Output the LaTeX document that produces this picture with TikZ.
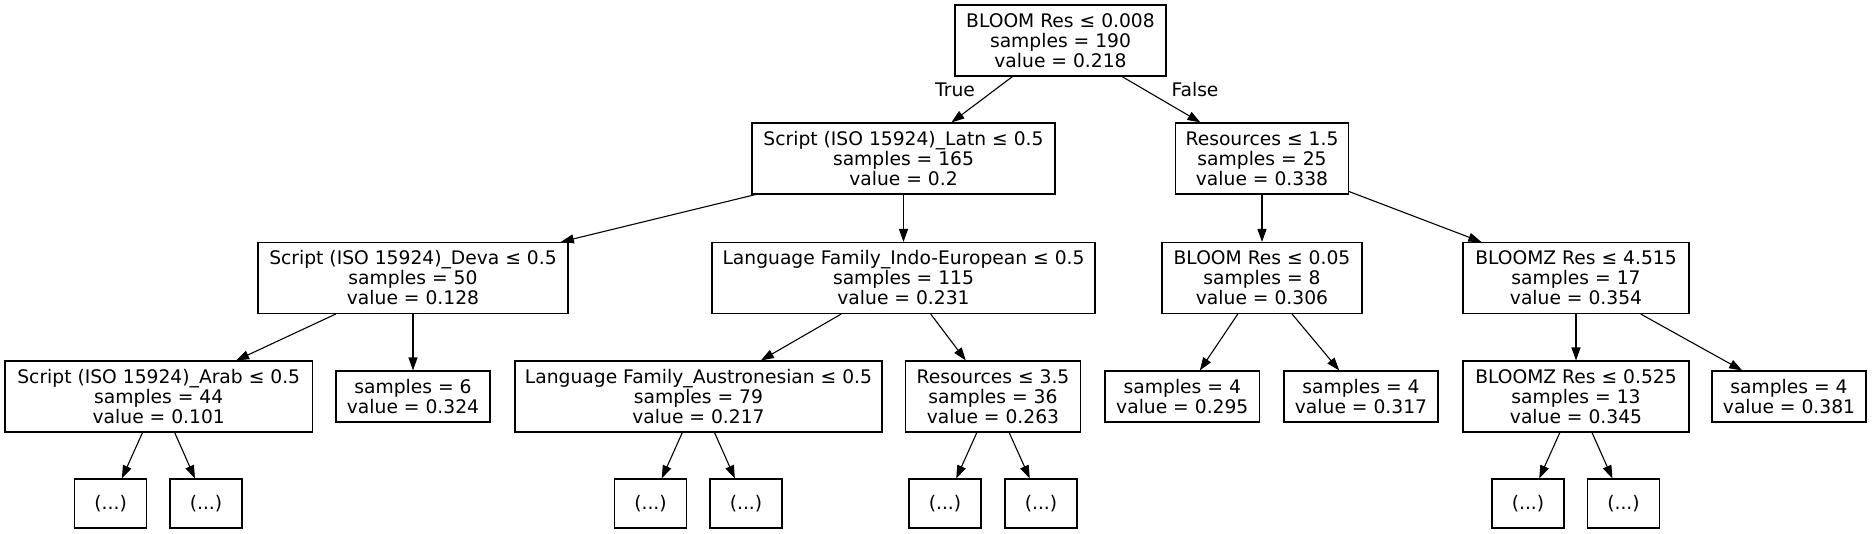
\documentclass[tikz,border=0pt]{standalone}
\usepackage{fontspec}
\setmainfont{DejaVu Sans}
\usetikzlibrary{arrows.meta}
\tikzset{
  txt/.style={font=\fontsize{18.7}{20}\selectfont},
  box/.style={txt, draw, line width=1.1pt, align=center, inner sep=0pt},
  b3/.style={box, minimum height=71pt},
  b2/.style={box, minimum height=51pt},
  dots/.style={box, minimum height=49pt, minimum width=72pt},
  conn/.style={-{Triangle[length=13pt,width=9pt]}, line width=1.1pt},
}
\begin{document}
\begin{tikzpicture}[x=1pt,y=-1pt]
\useasboundingbox (0,0) rectangle (1872,533);
% level 0
\node[b3, minimum width=211pt] (root) at (1060.5,40.5) {BLOOM Res ≤ 0.008\\samples = 190\\value = 0.218};
% level 1
\node[b3, minimum width=303pt] (latn) at (903.5,158.5) {Script (ISO 15924)\_Latn ≤ 0.5\\samples = 165\\value = 0.2};
\node[b3, minimum width=173pt] (res15) at (1262,158.5) {Resources ≤ 1.5\\samples = 25\\value = 0.338};
% level 2
\node[b3, minimum width=310pt] (deva) at (413,278) {Script (ISO 15924)\_Deva ≤ 0.5\\samples = 50\\value = 0.128};
\node[b3, minimum width=383pt] (indo) at (903.5,278) {Language Family\_Indo-European ≤ 0.5\\samples = 115\\value = 0.231};
\node[b3, minimum width=200pt] (bl005) at (1262,278) {BLOOM Res ≤ 0.05\\samples = 8\\value = 0.306};
\node[b3, minimum width=226pt] (bz4515) at (1576,278) {BLOOMZ Res ≤ 4.515\\samples = 17\\value = 0.354};
% level 3
\node[b3, minimum width=307.5pt] (arab) at (158.75,396.5) {Script (ISO 15924)\_Arab ≤ 0.5\\samples = 44\\value = 0.101};
\node[b2, minimum width=154pt] (s6) at (413,396.5) {samples = 6\\value = 0.324};
\node[b3, minimum width=367pt] (austro) at (698.5,396.5) {Language Family\_Austronesian ≤ 0.5\\samples = 79\\value = 0.217};
\node[b3, minimum width=175pt] (res35) at (993,396.5) {Resources ≤ 3.5\\samples = 36\\value = 0.263};
\node[b2, minimum width=154.6pt] (s4a) at (1182.3,396.5) {samples = 4\\value = 0.295};
\node[b2, minimum width=154pt] (s4b) at (1361,396.5) {samples = 4\\value = 0.317};
\node[b3, minimum width=226pt] (bz0525) at (1576,396.5) {BLOOMZ Res ≤ 0.525\\samples = 13\\value = 0.345};
\node[b2, minimum width=154pt] (s4c) at (1789,396.5) {samples = 4\\value = 0.381};
% level 4
\node[dots] (d1) at (110.6,503.5) {(...)};
\node[dots] (d2) at (206,503.5) {(...)};
\node[dots] (d3) at (650.5,503.5) {(...)};
\node[dots] (d4) at (746,503.5) {(...)};
\node[dots] (d5) at (945,503.5) {(...)};
\node[dots] (d6) at (1041,503.5) {(...)};
\node[dots] (d7) at (1528,503.5) {(...)};
\node[dots] (d8) at (1623.5,503.5) {(...)};
% edges
\draw[conn] (root) -- (latn);
\draw[conn] (root) -- (res15);
\draw[conn] (latn) -- (deva);
\draw[conn] (latn) -- (indo);
\draw[conn] (res15) -- (bl005);
\draw[conn] (res15) -- (bz4515);
\draw[conn] (deva) -- (arab);
\draw[conn] (deva) -- (s6);
\draw[conn] (indo) -- (austro);
\draw[conn] (indo) -- (res35);
\draw[conn] (bl005) -- (s4a);
\draw[conn] (bl005) -- (s4b);
\draw[conn] (bz4515) -- (bz0525);
\draw[conn] (bz4515) -- (s4c);
\draw[conn] (arab) -- (d1);
\draw[conn] (arab) -- (d2);
\draw[conn] (austro) -- (d3);
\draw[conn] (austro) -- (d4);
\draw[conn] (res35) -- (d5);
\draw[conn] (res35) -- (d6);
\draw[conn] (bz0525) -- (d7);
\draw[conn] (bz0525) -- (d8);
% labels
\node[txt] (ltrue) at (955,89.5) {True};
\node[txt] (lfalse) at (1195,89.5) {False};
\end{tikzpicture}
\end{document}
